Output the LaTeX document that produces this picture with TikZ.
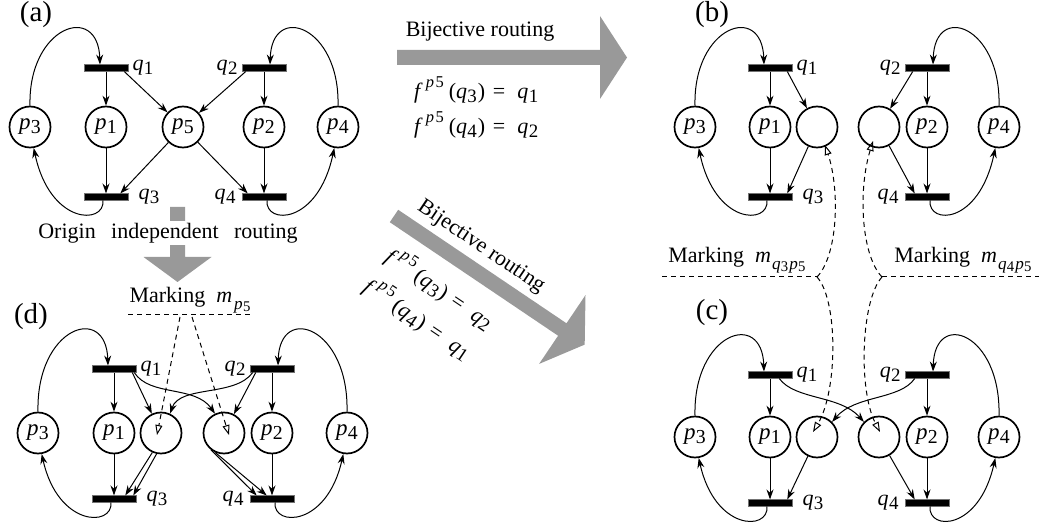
\documentclass[tikz,border=0pt]{standalone}
\usepackage{fontspec}
\setmainfont{Liberation Serif}
\usepackage{graphicx}
\usetikzlibrary{arrows.meta,calc}
\definecolor{arrgray}{RGB}{153,153,153}
\newcommand{\ix}[2]{\textit{#1}\kern0.3pt\raisebox{-0.16em}{\scalebox{0.86}{#2}}}
\newcommand{\fpv}[1]{\textit{f}\kern3pt\raisebox{0.5em}{\scalebox{0.75}{\textit{p}\kern2pt5}}\kern5pt(\ix{q}{#1}\kern1pt)\hspace{0.35em}=\hspace{0.55em}}
\newcommand{\petribase}[8]{%
  \node[place] (#1p3) at (#2,#7) {\ix{p}{3}};
  \node[place] (#1p1) at (#3,#7) {\ix{p}{1}};
  \node[place] (#1p2) at (#4,#7) {\ix{p}{2}};
  \node[place] (#1p4) at (#5,#7) {\ix{p}{4}};
  \node[bar] (#1q1) at (#3,#6) {};
  \node[bar] (#1q2) at (#4,#6) {};
  \node[bar] (#1q3) at (#3,#8) {};
  \node[bar] (#1q4) at (#4,#8) {};
  \node[qlab,anchor=west] (#1l1) at ([xshift=4pt]#1q1.east) {\ix{q}{1}};
  \node[qlab,anchor=east] (#1l2) at ([xshift=-4pt]#1q2.west) {\ix{q}{2}};
  \node[qlab,anchor=west] (#1l3) at ([xshift=10pt]#1q3.east) {\ix{q}{3}};
  \node[qlab,anchor=east] (#1l4) at ([xshift=-6pt]#1q4.west) {\ix{q}{4}};
  \draw[arr] (#1q1.south) -- (#1p1.north);
  \draw[arr] (#1p1.south) -- (#1q3.north);
  \draw[arr] (#1q2.south) -- (#1p2.north);
  \draw[arr] (#1p2.south) -- (#1q4.north);
  \draw[arr] (#1p3.north) .. controls ({#2-2},{#6-42}) and ({#3-8},{#6-66}) .. ({#3-6},{#6-3.5});
  \draw[arr] (#1p4.north) .. controls ({#5+2},{#6-42}) and ({#4+8},{#6-66}) .. ({#4+6},{#6-3.5});
  \draw[arr] ({#3-3},{#8+3.5}) .. controls ({#3-1},{#8+28}) and ({#2+20},{#8+28}) .. (#1p3.-80);
  \draw[arr] ({#4+3},{#8+3.5}) .. controls ({#4+1},{#8+28}) and ({#5-20},{#8+28}) .. (#1p4.-100);
}
\begin{document}
\begin{tikzpicture}[x=1pt,y=-1pt,
  place/.style={circle,draw,line width=1.7pt,minimum size=41pt,inner sep=0pt,font=\fontsize{23}{23}\selectfont},
  bar/.style={rectangle,fill=black,draw=black!55,line width=0.6pt,minimum width=44pt,minimum height=6.5pt,inner sep=0pt},
  qlab/.style={font=\fontsize{22}{22}\selectfont,inner sep=0pt},
  arr/.style={-{Stealth[length=10pt,width=7pt]},line width=1pt},
  darr/.style={-{Triangle[open,length=10pt,width=7pt]},line width=1pt,dash pattern=on 5pt off 4pt},
  mline/.style={line width=1pt,dash pattern=on 5pt off 4pt},
  txt/.style={font=\fontsize{22}{22}\selectfont,inner sep=1pt},
  plabel/.style={font=\fontsize{29}{29}\selectfont,inner sep=0pt},
  bigarrow/.style={fill=arrgray}]
\useasboundingbox (0,0) rectangle (1039,529);

% big gray arrows
\fill[bigarrow,shift={(397,57.5)}] (0,-7.5) -- (203,-7.5) -- (203,-41.5) -- (230,0) -- (203,41.5) -- (203,7.5) -- (0,7.5) -- cycle;
\fill[bigarrow,shift={(394,216)},rotate=-34] (0,-7.5) -- (203,-7.5) -- (203,-41.5) -- (230,0) -- (203,41.5) -- (203,7.5) -- (0,7.5) -- cycle;
\fill[bigarrow,shift={(177.5,207)},rotate=-90] (0,-7.5) -- (50,-7.5) -- (50,-34) -- (75,0) -- (50,34) -- (50,7.5) -- (0,7.5) -- cycle;

% texts on arrows
\node[txt] (bij1) at (480,32) {Bijective routing};
\node[txt,anchor=west] (f1) at (413,90) {\fpv{3}\ix{q}{1}};
\node[txt,anchor=west] (f2) at (413,125) {\fpv{4}\ix{q}{2}};
\node[txt,rotate=-34] (bij2) at (481,247) {Bijective routing};
\node[txt,rotate=-34] (f3) at (440,288) {\fpv{3}\ix{q}{2}};
\node[txt,rotate=-34] (f4) at (418,318) {\fpv{4}\ix{q}{1}};
\node[txt,fill=white,inner ysep=2pt] (orig) at (168,233) {Origin\hspace{0.45em} independent\hspace{0.45em} routing};

% panel labels
\node[plabel] (la) at (36,15) {(a)};
\node[plabel] (lb) at (712,15) {(b)};
\node[plabel] (lc) at (712,313) {(c)};
\node[plabel] (ld) at (31,317) {(d)};

% panels
\petribase{a}{30}{106}{264}{338}{68}{127}{197}
\petribase{b}{695}{770}{927}{999}{68}{127}{197}
\petribase{c}{695}{770}{927}{999}{375}{437}{503}
\petribase{d}{38}{114}{272}{347}{369}{433}{499}

% (a) middle
\node[place] (ap5) at (183,127) {\ix{p}{5}};
\draw[arr] ([xshift=-4pt]aq1.south east) -- (ap5);
\draw[arr] ([xshift=4pt]aq2.south west) -- (ap5);
\draw[arr] (ap5) -- ([xshift=-8pt]aq3.north east);
\draw[arr] (ap5) -- ([xshift=6pt]aq4.north west);

% (b) middle
\node[place] (bl) at (817,127) {};
\node[place] (br) at (879,127) {};
\draw[arr] ([xshift=-5pt]bq1.south east) -- (bl);
\draw[arr] (bl) -- ([xshift=-5pt]bq3.north east);
\draw[arr] ([xshift=8pt]bq2.south west) -- (br);
\draw[arr] (br) -- ([xshift=10pt]bq4.north west);

% (c) middle
\node[place] (cl) at (817,437) {};
\node[place] (cr) at (879,437) {};
\draw[arr] ([xshift=-13pt]cq1.south east) .. controls (795,400) and (840,395) .. (cr.135);
\draw[arr] ([xshift=10pt]cq2.south west) .. controls (900,400) and (855,395) .. (cl.45);
\draw[arr] (cl) -- ([xshift=-5pt]cq3.north east);
\draw[arr] (cr) -- ([xshift=10pt]cq4.north west);

% markings between (b) and (c)
\coordinate (m1) at (817,277);
\coordinate (m2) at (882,277);
\coordinate (ml) at (662,277);
\coordinate (mr) at (1039,277);
\draw[mline] (ml) -- (m1);
\draw[mline] (m2) -- (mr);
\node[txt] (mk1) at (737,260) {Marking\hspace{0.5em}\textit{m}\kern1pt\raisebox{-0.3em}{\scalebox{0.78}{\ix{q}{3}\kern1.5pt\ix{p}{5}}}};
\node[txt] (mk2) at (963,260) {Marking\hspace{0.5em}\textit{m}\kern1pt\raisebox{-0.3em}{\scalebox{0.78}{\ix{q}{4}\kern1.5pt\ix{p}{5}}}};
\draw[darr] (m1) .. controls (838,255) and (840,190) .. ([shift={(8,18)}]bl.center);
\draw[darr] (m2) .. controls (861,255) and (858,190) .. ([shift={(-6,14)}]br.center);
\draw[darr] (m1) .. controls (838,300) and (838,390) .. ([shift={(-4,-5)}]cl.center);
\draw[darr] (m2) .. controls (861,300) and (858,390) .. ([shift={(1,-5)}]cr.center);

% (d) middle
\node[place] (dl) at (161,433) {};
\node[place] (dr) at (224,433) {};
\draw[arr] ([xshift=-4pt]dq1.south east) -- (dl);
\draw[arr] ([xshift=-2pt]dq1.south east) .. controls (150,397) and (195,385) .. (dr.115);
\draw[arr] ([xshift=6pt]dq2.south west) -- (dr);
\draw[arr] ([xshift=3pt]dq2.south west) .. controls (235,397) and (180,385) .. (dl.65);
\draw[arr] (dl.246) -- ([xshift=-11pt]dq3.north east);
\draw[arr] (dl.258) -- ([xshift=-3pt]dq3.north east);
\draw[arr] (dr.232) -- ([xshift=7pt]dq4.north west);
\draw[arr] (dr.246) -- ([xshift=17pt]dq4.north west);
\coordinate (dm0) at (128,315);
\coordinate (dm3) at (251,315);
\coordinate (dm1) at (180,317);
\coordinate (dm2) at (192,317);
\draw[mline] (dm0) -- (dm3);
\node[txt] (mkd) at (190,300) {Marking\hspace{0.5em}\textit{m}\kern2pt\raisebox{-0.3em}{\scalebox{0.78}{\ix{p}{5}}}};
\draw[darr] (dm1) -- ([shift={(-4,2)}]dl.center);
\draw[darr] (dm2) -- ([shift={(5,2)}]dr.center);
\end{tikzpicture}
\end{document}
